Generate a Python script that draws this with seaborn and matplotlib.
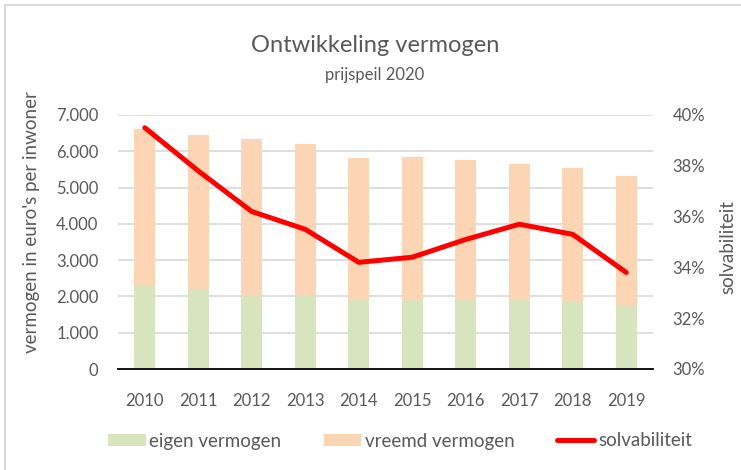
import numpy as np
import pandas as pd
import matplotlib
matplotlib.use("Agg")
import matplotlib.pyplot as plt
import matplotlib.ticker as mticker
from matplotlib.patches import Rectangle
from matplotlib.lines import Line2D
from matplotlib.patches import Patch
import seaborn as sns

# ── Data ──
years = ["2010", "2011", "2012", "2013", "2014", "2015", "2016", "2017", "2018", "2019"]
eigen_vermogen = [2320, 2200, 2050, 2030, 1920, 1930, 1930, 1930, 1860, 1760]
vreemd_vermogen = [4290, 4240, 4300, 4170, 3900, 3920, 3830, 3720, 3670, 3560]
solvabiliteit = [39.5, 37.8, 36.2, 35.5, 34.2, 34.4, 35.1, 35.7, 35.3, 33.8]

left_ticks = [0, 1000, 2000, 3000, 4000, 5000, 6000, 7000]
left_tick_labels = ["0", "1.000", "2.000", "3.000", "4.000", "5.000", "6.000", "7.000"]
right_ticks = [30, 32, 34, 36, 38, 40]

GREEN = "#d7e4bd"
ORANGE = "#fcd5b5"
RED = "#ff0000"
TEXT = "#595959"
GRID = "#d9d9d9"

sns.set_theme(style="white")
plt.rcParams["font.family"] = ["Lato", "DejaVu Sans"]

df = pd.DataFrame({"jaar": years, "eigen": eigen_vermogen, "vreemd": vreemd_vermogen})
df["totaal"] = df["eigen"] + df["vreemd"]

fig = plt.figure(figsize=(7.41, 4.70), dpi=100)
ax = fig.add_axes([118 / 741, 1 - 369 / 470, 535 / 741, 254 / 470])

# stacked bars: total in orange, eigen on top in green
sns.barplot(data=df, x="jaar", y="totaal", color=ORANGE, width=0.39, ax=ax,
            saturation=1, edgecolor="none")
sns.barplot(data=df, x="jaar", y="eigen", color=GREEN, width=0.39, ax=ax,
            saturation=1, edgecolor="none")

ax.set_xlim(-0.5, len(years) - 0.5)
ax.set_ylim(0, 7000)
ax.set_yticks(left_ticks)
ax.set_yticklabels(left_tick_labels)
ax.yaxis.grid(True, color=GRID, linewidth=1.2)
ax.set_axisbelow(True)
for s in ["top", "left", "right"]:
    ax.spines[s].set_visible(False)
ax.spines["bottom"].set_color("black")
ax.spines["bottom"].set_linewidth(1.3)
ax.set_xlabel("")
ax.set_ylabel("vermogen in euro's per inwoner", fontsize=13.5, color=TEXT)
ax.yaxis.set_label_coords(-78 / 535, 0.58)
ax.tick_params(axis="y", length=0, labelsize=12, labelcolor=TEXT, pad=14)
ax.tick_params(axis="x", which="major", length=0, labelsize=12, labelcolor=TEXT, pad=17)
ax.xaxis.set_minor_locator(mticker.FixedLocator(np.arange(-0.5, len(years), 1.0)))
ax.tick_params(axis="x", which="minor", length=6, width=1.3, color="black", direction="out")

# solvabiliteit line on secondary axis
ax2 = ax.twinx()
sns.lineplot(x=np.arange(len(years)), y=solvabiliteit, color=RED, linewidth=3.6,
             ax=ax2, legend=False)
ax2.set_ylim(30, 40)
ax2.set_yticks(right_ticks)
ax2.yaxis.set_major_formatter(mticker.FuncFormatter(lambda v, p: f"{v:.0f}%"))
ax2.tick_params(axis="y", length=0, labelsize=12, labelcolor=TEXT, pad=14)
ax2.set_ylabel("solvabiliteit", fontsize=13.5, color=TEXT)
ax2.yaxis.set_label_coords(1 + 66 / 535, 0.48)
ax2.grid(False)
for s in ["top", "left", "right", "bottom"]:
    ax2.spines[s].set_visible(False)

fig.text(375 / 741, 1 - 45 / 470, "Ontwikkeling vermogen", ha="center", va="center",
         fontsize=17, color=TEXT)
fig.text(375 / 741, 1 - 75 / 470, "prijspeil 2020", ha="center", va="center",
         fontsize=12, color=TEXT)

handles = [Patch(facecolor=GREEN, edgecolor="none", label="eigen vermogen"),
           Patch(facecolor=ORANGE, edgecolor="none", label="vreemd vermogen"),
           Line2D([0], [0], color=RED, linewidth=3.6, label="solvabiliteit")]
fig.legend(handles=handles, loc="center", bbox_to_anchor=(400 / 741, 1 - 441 / 470),
           ncol=3, frameon=False, fontsize=13.5, labelcolor=TEXT, handlelength=2.0,
           handleheight=0.65, handletextpad=0.2, columnspacing=2.25)

# outer chart border
fig.patches.append(Rectangle((5 / 741, -0.05), 1.0, 1 - 5 / 470 + 0.05,
                             transform=fig.transFigure, fill=False,
                             edgecolor=GRID, linewidth=1.5))

fig.savefig("out.png", dpi=100)
